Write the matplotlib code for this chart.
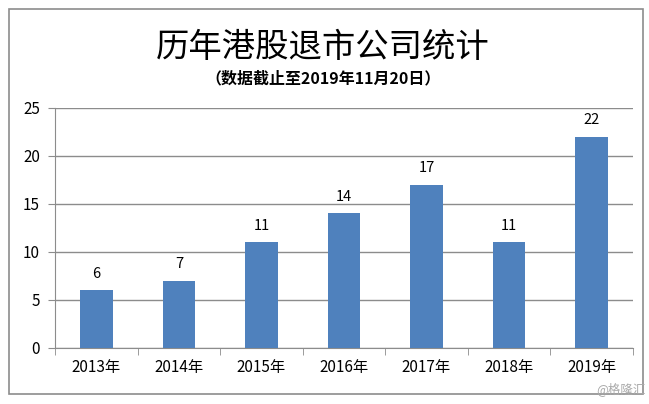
import matplotlib.pyplot as plt
from matplotlib.patches import Rectangle

plt.rcParams['font.family'] = ['Noto Sans CJK SC', 'DejaVu Sans']

# ===== données =====
annees = ["2013年", "2014年", "2015年", "2016年", "2017年", "2018年", "2019年"]
nb_retraits = [6, 7, 11, 14, 17, 11, 22]
titre = "历年港股退市公司统计"
sous_titre = "（数据截止至2019年11月20日）"
# ===================

fig = plt.figure(figsize=(6.49, 4.04), dpi=100)

# cadre extérieur
fig.patches.append(Rectangle((0.014, 0.025), 0.977, 0.953, transform=fig.transFigure,
                             fill=False, edgecolor="#8c8c8c", linewidth=1.2))

ax = fig.add_axes([0.085, 0.139, 0.89, 0.594])
x = range(len(annees))
bars = ax.bar(x, nb_retraits, width=0.39, color="#4f81bd", zorder=3)

for b, v in zip(bars, nb_retraits):
    ax.text(b.get_x() + b.get_width() / 2, v + 1.0, str(v),
            ha="center", va="bottom", fontsize=10.5)

ax.set_xlim(-0.5, len(annees) - 0.5)
ax.set_ylim(0, 25)
ax.set_yticks(range(0, 26, 5))
ax.set_xticks(x)
ax.set_xticklabels(annees, fontsize=11)
ax.set_xticks([i - 0.5 for i in range(len(annees) + 1)], minor=True)
ax.tick_params(axis="x", which="major", length=0, pad=8)
ax.tick_params(axis="x", which="minor", length=5, color="#8c8c8c")
ax.tick_params(axis="y", labelsize=11, length=5, color="#8c8c8c", pad=6)
ax.grid(axis="y", color="#8c8c8c", linewidth=1, zorder=0)

for s in ["top", "right"]:
    ax.spines[s].set_visible(False)
for s in ["left", "bottom"]:
    ax.spines[s].set_color("#8c8c8c")

fig.text(0.498, 0.883, titre, ha="center", va="center", fontsize=24)
fig.text(0.498, 0.805, sous_titre, ha="center", va="center", fontsize=11.5, fontweight="bold")
fig.text(0.995, 0.02, "@格隆汇", ha="right", va="bottom", fontsize=9, color="#aaaaaa")

fig.savefig("out.png", dpi=100)
